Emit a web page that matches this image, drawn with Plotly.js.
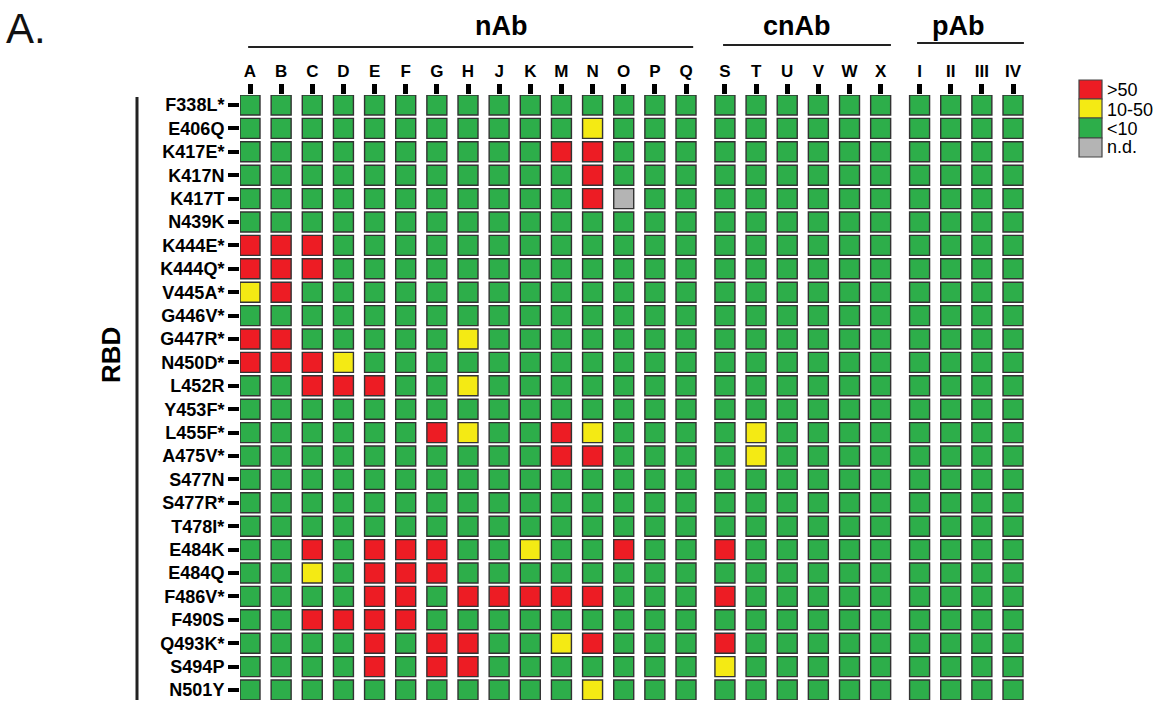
<!DOCTYPE html>
<html>
<head>
<meta charset="utf-8">
<script src="https://cdn.plot.ly/plotly-3.0.1.min.js"></script>
<style>html,body{margin:0;padding:0;background:#fff;}#chart{width:1159px;height:703px;}</style>
</head>
<body>
<div id="chart"></div>
<script>
// ---------------- DATA ----------------
const mutations = ['F338L*','E406Q','K417E*','K417N','K417T','N439K','K444E*','K444Q*','V445A*','G446V*',
  'G447R*','N450D*','L452R','Y453F*','L455F*','A475V*','S477N','S477R*','T478I*','E484K','E484Q',
  'F486V*','F490S','Q493K*','S494P','N501Y'];

const nAbCols  = ['A','B','C','D','E','F','G','H','J','K','M','N','O','P','Q'];
const cnAbCols = ['S','T','U','V','W','X'];
const pAbCols  = ['I','II','III','IV'];

// level codes: 3 = >50, 2 = 10-50, 1 = <10, 0 = n.d.
const levelNames = ['n.d.','<10','10-50','>50'];

const nAbLevels = [
  [1,1,1,1,1,1,1,1,1,1,1,1,1,1,1], // F338L*
  [1,1,1,1,1,1,1,1,1,1,1,2,1,1,1], // E406Q
  [1,1,1,1,1,1,1,1,1,1,3,3,1,1,1], // K417E*
  [1,1,1,1,1,1,1,1,1,1,1,3,1,1,1], // K417N
  [1,1,1,1,1,1,1,1,1,1,1,3,0,1,1], // K417T
  [1,1,1,1,1,1,1,1,1,1,1,1,1,1,1], // N439K
  [3,3,3,1,1,1,1,1,1,1,1,1,1,1,1], // K444E*
  [3,3,3,1,1,1,1,1,1,1,1,1,1,1,1], // K444Q*
  [2,3,1,1,1,1,1,1,1,1,1,1,1,1,1], // V445A*
  [1,1,1,1,1,1,1,1,1,1,1,1,1,1,1], // G446V*
  [3,3,1,1,1,1,1,2,1,1,1,1,1,1,1], // G447R*
  [3,3,3,2,1,1,1,1,1,1,1,1,1,1,1], // N450D*
  [1,1,3,3,3,1,1,2,1,1,1,1,1,1,1], // L452R
  [1,1,1,1,1,1,1,1,1,1,1,1,1,1,1], // Y453F*
  [1,1,1,1,1,1,3,2,1,1,3,2,1,1,1], // L455F*
  [1,1,1,1,1,1,1,1,1,1,3,3,1,1,1], // A475V*
  [1,1,1,1,1,1,1,1,1,1,1,1,1,1,1], // S477N
  [1,1,1,1,1,1,1,1,1,1,1,1,1,1,1], // S477R*
  [1,1,1,1,1,1,1,1,1,1,1,1,1,1,1], // T478I*
  [1,1,3,1,3,3,3,1,1,2,1,1,3,1,1], // E484K
  [1,1,2,1,3,3,3,1,1,1,1,1,1,1,1], // E484Q
  [1,1,1,1,3,3,1,3,3,3,3,3,1,1,1], // F486V*
  [1,1,3,3,3,3,1,1,1,1,1,1,1,1,1], // F490S
  [1,1,1,1,3,1,3,3,1,1,2,3,1,1,1], // Q493K*
  [1,1,1,1,3,1,3,3,1,1,1,1,1,1,1], // S494P
  [1,1,1,1,1,1,1,1,1,1,1,2,1,1,1]  // N501Y
];

const cnAbLevels = [
  [1,1,1,1,1,1],[1,1,1,1,1,1],[1,1,1,1,1,1],[1,1,1,1,1,1],[1,1,1,1,1,1],[1,1,1,1,1,1],
  [1,1,1,1,1,1],[1,1,1,1,1,1],[1,1,1,1,1,1],[1,1,1,1,1,1],[1,1,1,1,1,1],[1,1,1,1,1,1],
  [1,1,1,1,1,1],[1,1,1,1,1,1],
  [1,2,1,1,1,1], // L455F*
  [1,2,1,1,1,1], // A475V*
  [1,1,1,1,1,1],[1,1,1,1,1,1],[1,1,1,1,1,1],
  [3,1,1,1,1,1], // E484K
  [1,1,1,1,1,1], // E484Q
  [3,1,1,1,1,1], // F486V*
  [1,1,1,1,1,1], // F490S
  [3,1,1,1,1,1], // Q493K*
  [2,1,1,1,1,1], // S494P
  [1,1,1,1,1,1]  // N501Y
];

const pAbLevels = mutations.map(() => [1,1,1,1]);

const groupNames = ['nAb','cnAb','pAb'];

// ---------------- STYLE ----------------
const levelColors = {3:'#ED1C24', 2:'#F4EA14', 1:'#2DAE4A', 0:'#B4B4B4'};
const groupStart = [0, 15.25, 21.5];          // x offset of each group (data units)
const FONT = 'Liberation Sans, Arial, Helvetica, sans-serif';

const groups = [
  {cols: nAbCols, levels: nAbLevels},
  {cols: cnAbCols, levels: cnAbLevels},
  {cols: pAbCols, levels: pAbLevels}
];

const tickvals = [], ticktext = [];
const pts = {0:{x:[],y:[],t:[]},1:{x:[],y:[],t:[]},2:{x:[],y:[],t:[]},3:{x:[],y:[],t:[]}};
groups.forEach((g, gi) => {
  g.cols.forEach((c, ci) => {
    const xv = groupStart[gi] + ci;
    tickvals.push(xv); ticktext.push(c);
    mutations.forEach((m, ri) => {
      const lv = g.levels[ri][ci];
      pts[lv].x.push(xv); pts[lv].y.push(ri);
      pts[lv].t.push(groupNames[gi] + ' ' + c + ' / ' + m + ': ' + levelNames[lv]);
    });
  });
});

const traces = [3,2,1,0].map(lv => ({
  type:'scatter', mode:'markers', x: pts[lv].x, y: pts[lv].y, text: pts[lv].t,
  hoverinfo:'text', name: levelNames[lv], showlegend:false,
  marker:{symbol:'square', size:20, color: levelColors[lv], line:{color:'#333333', width:1.4}}
}));

// pixel geometry helpers (for decorations only)
const W = 1159, H = 703, ML = 240, MT = 95, MR = 135, MB = 3;
const PW = W - ML - MR, PH = H - MT - MB;
const px2x = p => (p - ML) / PW;
const py2y = p => 1 - (p - MT) / PH;

const shapes = [];
const annotations = [];

// group header lines + labels
const headerLines = [
  {x0:-0.06, x1:14.23, y:47, label:'nAb', lx:501},
  {x0:15.19, x1:20.58, y:45, label:'cnAb', lx:797},
  {x0:21.42, x1:24.85, y:43, label:'pAb', lx:958}
];
headerLines.forEach(h => {
  shapes.push({type:'line', xref:'x', yref:'paper', x0:h.x0, x1:h.x1, y0:py2y(h.y), y1:py2y(h.y),
    line:{color:'#222', width:2}});
  annotations.push({xref:'paper', yref:'paper', x:px2x(h.lx), y:py2y(26), xanchor:'center', yanchor:'middle',
    text:h.label, showarrow:false, font:{family:FONT, size:27, color:'#000', weight:'bold'}});
});

// RBD bracket
shapes.push({type:'line', xref:'paper', yref:'paper', x0:px2x(137), x1:px2x(137), y0:py2y(97), y1:py2y(700),
  line:{color:'#222', width:3}});
annotations.push({xref:'paper', yref:'paper', x:px2x(111), y:py2y(355), text:'RBD', textangle:-90,
  showarrow:false, xanchor:'center', yanchor:'middle', font:{family:FONT, size:26, color:'#000', weight:'bold'}});

// panel letter
annotations.push({xref:'paper', yref:'paper', x:px2x(4), y:py2y(28), xanchor:'left', yanchor:'middle',
  text:'A.', showarrow:false, font:{family:FONT, size:42, color:'#111'}});

// colour key
const keyRows = [
  {lv:3, y0:80, y1:99, ty:90},
  {lv:2, y0:99, y1:118, ty:110},
  {lv:1, y0:118, y1:138, ty:129},
  {lv:0, y0:138, y1:157, ty:147}
];
keyRows.forEach(k => {
  shapes.push({type:'rect', xref:'paper', yref:'paper', x0:px2x(1079), x1:px2x(1102),
    y0:py2y(k.y1), y1:py2y(k.y0), fillcolor:levelColors[k.lv], line:{color:'#444', width:1.2}});
  annotations.push({xref:'paper', yref:'paper', x:px2x(1105), y:py2y(k.ty), xanchor:'left', yanchor:'middle',
    text:levelNames[k.lv], showarrow:false, font:{family:FONT, size:18, color:'#000'}});
});

const layout = {
  width:W, height:H,
  margin:{l:ML, r:MR, t:MT, b:MB, pad:0},
  paper_bgcolor:'#fff', plot_bgcolor:'#fff',
  showlegend:false,
  xaxis:{
    side:'top', range:[-0.321, 24.853], tickmode:'array', tickvals:tickvals, ticktext:ticktext,
    ticks:'outside', ticklen:10, tickwidth:5, tickcolor:'#000',
    showgrid:false, zeroline:false, showline:false, fixedrange:true,
    tickfont:{family:FONT, size:17, color:'#000', weight:'bold'}
  },
  yaxis:{
    range:[25.427, -0.427], tickmode:'array', tickvals:mutations.map((m,i)=>i), ticktext:mutations,
    ticks:'outside', ticklen:11, tickwidth:4, tickcolor:'#000',
    showgrid:false, zeroline:false, showline:false, fixedrange:true,
    tickfont:{family:FONT, size:18, color:'#000', weight:'bold'}
  },
  shapes:shapes,
  annotations:annotations
};

Plotly.newPlot('chart', traces, layout, {displayModeBar:false, staticPlot:false});
</script>
</body>
</html>
